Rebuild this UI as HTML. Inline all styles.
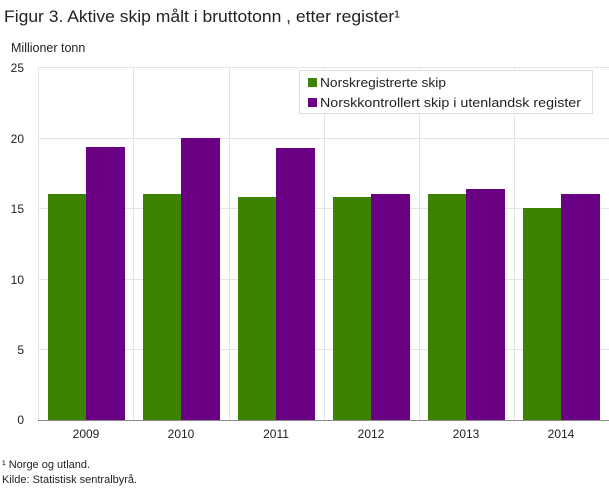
<!DOCTYPE html>
<html><head><meta charset="utf-8"><style>
body{margin:0;background:#fff;width:609px;height:488px;overflow:hidden;font-family:"Liberation Sans",sans-serif}
</style></head><body>
<svg width="609" height="488" xmlns="http://www.w3.org/2000/svg" font-family="Liberation Sans, sans-serif">
<text x="4" y="22" font-size="17" fill="#222" textLength="396" lengthAdjust="spacingAndGlyphs">Figur 3. Aktive skip målt i bruttotonn , etter register¹</text>
<text x="11" y="52" font-size="12.5" fill="#222">Millioner  tonn</text>
<g stroke="#e4e4e4" stroke-width="1">
<line x1="38" y1="67.5" x2="609" y2="67.5"/>
<line x1="38" y1="138.5" x2="609" y2="138.5"/>
<line x1="38" y1="208.5" x2="609" y2="208.5"/>
<line x1="38" y1="279.5" x2="609" y2="279.5"/>
<line x1="38" y1="349.5" x2="609" y2="349.5"/>
<line x1="38.5" y1="67" x2="38.5" y2="420"/>
<line x1="133.5" y1="67" x2="133.5" y2="420"/>
<line x1="229.5" y1="67" x2="229.5" y2="420"/>
<line x1="324.5" y1="67" x2="324.5" y2="420"/>
<line x1="419.5" y1="67" x2="419.5" y2="420"/>
<line x1="514.5" y1="67" x2="514.5" y2="420"/>
</g>
<g font-size="12" fill="#222" text-anchor="end">
<text x="24" y="72">25</text><text x="24" y="143">20</text><text x="24" y="213">15</text>
<text x="24" y="284">10</text><text x="24" y="354">5</text><text x="24" y="424">0</text>
</g>
<g fill="#3d8200">
<rect x="48" y="194" width="38" height="226"/>
<rect x="143" y="194" width="38" height="226"/>
<rect x="238" y="197" width="38" height="223"/>
<rect x="333" y="197" width="38" height="223"/>
<rect x="428" y="194" width="38" height="226"/>
<rect x="523" y="208" width="38" height="212"/>
</g>
<g fill="#6a0083">
<rect x="86" y="147" width="39" height="273"/>
<rect x="181" y="138" width="39" height="282"/>
<rect x="276" y="148" width="39" height="272"/>
<rect x="371" y="194" width="39" height="226"/>
<rect x="466" y="189" width="39" height="231"/>
<rect x="561" y="194" width="39" height="226"/>
</g>
<line x1="38" y1="420.5" x2="609" y2="420.5" stroke="#888"/>
<g font-size="12" fill="#222" text-anchor="middle">
<text x="86" y="438">2009</text><text x="181" y="438">2010</text><text x="276" y="438">2011</text>
<text x="371" y="438">2012</text><text x="466" y="438">2013</text><text x="561" y="438">2014</text>
</g>
<rect x="299.5" y="70.5" width="293" height="43" fill="#fff" stroke="#ddd"/>
<rect x="308" y="78" width="9" height="9" fill="#3d8200"/>
<text x="320" y="87" font-size="13" fill="#222" textLength="126" lengthAdjust="spacingAndGlyphs">Norskregistrerte skip</text>
<rect x="308" y="98" width="9" height="9" fill="#6a0083"/>
<text x="320" y="107" font-size="13" fill="#222" textLength="261" lengthAdjust="spacingAndGlyphs">Norskkontrollert skip i utenlandsk register</text>
<text x="2" y="468" font-size="11" fill="#222">¹ Norge og utland.</text>
<text x="2" y="483" font-size="11" fill="#222">Kilde: Statistisk sentralbyrå.</text>
</svg>
</body></html>
